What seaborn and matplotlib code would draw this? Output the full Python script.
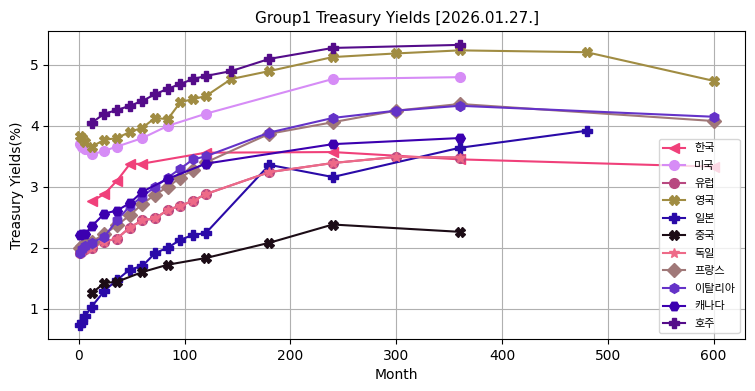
import matplotlib
matplotlib.use("Agg")
import matplotlib.pyplot as plt
import seaborn as sns

plt.rcParams['font.family'] = ['DejaVu Sans', 'Noto Sans CJK KR']

# maturity in months / yield in %
kr_months = [12, 24, 36, 48, 60, 120, 240, 360, 600]
kr_yields = [2.76, 2.88, 3.10, 3.37, 3.38, 3.56, 3.57, 3.45, 3.33]

us_months = [1, 3, 6, 12, 24, 36, 60, 84, 120, 240, 360]
us_yields = [3.70, 3.66, 3.62, 3.53, 3.59, 3.66, 3.80, 4.00, 4.20, 4.77, 4.80]

eu_months = [1, 3, 6, 12, 24, 36, 48, 60, 72, 84, 96, 108, 120, 180, 240, 300, 360]
eu_yields = [1.92, 1.95, 1.98, 2.00, 2.10, 2.15, 2.33, 2.45, 2.48, 2.62, 2.69, 2.77, 2.88, 3.24, 3.39, 3.49, 3.48]

uk_months = [1, 3, 6, 12, 24, 36, 48, 60, 72, 84, 96, 108, 120, 144, 180, 240, 300, 360, 480, 600]
uk_yields = [3.84, 3.80, 3.74, 3.66, 3.77, 3.80, 3.90, 3.97, 4.13, 4.11, 4.39, 4.44, 4.49, 4.77, 4.90, 5.13, 5.19, 5.24, 5.21, 4.74]

jp_months = [1, 3, 6, 12, 24, 36, 48, 60, 72, 84, 96, 108, 120, 180, 240, 360, 480]
jp_yields = [0.73, 0.78, 0.88, 1.03, 1.29, 1.47, 1.64, 1.70, 1.91, 2.00, 2.13, 2.21, 2.24, 3.36, 3.16, 3.64, 3.92]

cn_months = [12, 24, 36, 60, 84, 120, 180, 240, 360]
cn_yields = [1.25, 1.42, 1.44, 1.60, 1.72, 1.83, 2.08, 2.38, 2.26]

de_months = [1, 3, 6, 12, 24, 36, 48, 60, 72, 84, 96, 108, 120, 180, 240, 300, 360]
de_yields = [1.92, 1.95, 1.98, 2.00, 2.10, 2.15, 2.33, 2.45, 2.48, 2.62, 2.69, 2.77, 2.88, 3.24, 3.39, 3.49, 3.48]

fr_months = [1, 3, 6, 12, 24, 36, 48, 60, 72, 84, 96, 108, 120, 180, 240, 300, 360, 600]
fr_yields = [2.00, 2.03, 2.06, 2.10, 2.22, 2.37, 2.53, 2.72, 2.87, 3.00, 3.15, 3.28, 3.40, 3.87, 4.06, 4.25, 4.36, 4.08]

it_months = [1, 3, 6, 12, 24, 36, 48, 60, 72, 84, 96, 108, 120, 180, 240, 300, 360, 600]
it_yields = [1.92, 1.97, 2.03, 2.08, 2.18, 2.45, 2.68, 2.84, 3.00, 3.15, 3.30, 3.45, 3.50, 3.89, 4.13, 4.25, 4.33, 4.15]

ca_months = [1, 3, 6, 12, 24, 36, 48, 60, 84, 120, 240, 360]
ca_yields = [2.20, 2.22, 2.22, 2.35, 2.56, 2.61, 2.73, 2.92, 3.13, 3.38, 3.70, 3.80]

au_months = [12, 24, 36, 48, 60, 72, 84, 96, 108, 120, 144, 180, 240, 360]
au_yields = [4.05, 4.20, 4.26, 4.33, 4.41, 4.52, 4.61, 4.69, 4.77, 4.82, 4.90, 5.10, 5.28, 5.33]

# (label, months, yields, color, marker)
series = [
    ('한국', kr_months, kr_yields, '#f0407a', '<'),
    ('미국', us_months, us_yields, '#d68cf6', 'o'),
    ('유럽', eu_months, eu_yields, '#b84880', 'o'),
    ('영국', uk_months, uk_yields, '#a08c42', 'X'),
    ('일본', jp_months, jp_yields, '#2a0aa8', 'P'),
    ('중국', cn_months, cn_yields, '#1c0c16', 'X'),
    ('독일', de_months, de_yields, '#ee6a88', '*'),
    ('프랑스', fr_months, fr_yields, '#a07878', 'D'),
    ('이탈리아', it_months, it_yields, '#6432c8', 'h'),
    ('캐나다', ca_months, ca_yields, '#3c00b0', 'H'),
    ('호주', au_months, au_yields, '#540c8a', 'P'),
]

fig, ax = plt.subplots(figsize=(7.55, 3.91), dpi=100)

for name, months, ylds, color, marker in series:
    sns.lineplot(x=months, y=ylds, ax=ax, color=color, marker=marker,
                 markersize=7, markeredgecolor=color, markeredgewidth=1,
                 linewidth=1.5, label=name)

ax.grid(True)
ax.set_title('Group1 Treasury Yields [2026.01.27.]', fontsize=11)
ax.set_xlabel('Month')
ax.set_ylabel('Treasury Yields(%)')
ax.legend(loc='lower right', fontsize=8, labelspacing=0.68)

plt.subplots_adjust(left=0.064, right=0.987, top=0.921, bottom=0.133)
fig.savefig('out.png')
